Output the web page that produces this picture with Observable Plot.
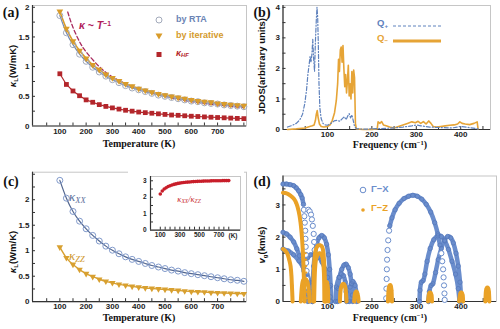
<!DOCTYPE html>
<html><head><meta charset="utf-8">
<script src="https://cdn.jsdelivr.net/npm/d3@7"></script>
<script src="https://cdn.jsdelivr.net/npm/@observablehq/plot@0.6"></script>
<style>
html,body{margin:0;padding:0;background:#fff;}
#fig{position:relative;width:500px;height:329px;overflow:hidden;background:#fff;font-family:"Liberation Sans",Arial,sans-serif;}
.t{position:absolute;white-space:nowrap;line-height:1;}
sub,sup{font-size:65%;line-height:0;}
sup{vertical-align:0.45em;}
sub{vertical-align:-0.3em;}
</style></head><body><div id="fig"></div>
<script>
// ---------- DATA ----------
// (a) thermal conductivity vs temperature
const temps = [100,125,150,175,200,225,250,275,300,325,350,375,400,425,450,475,500,525,550,575,600,625,650,675,700,725,750,775,800];
const kRTA  = [1.86,1.57,1.37,1.21,1.09,0.99,0.91,0.84,0.78,0.73,0.68,0.64,0.61,0.58,0.55,0.52,0.50,0.48,0.46,0.44,0.42,0.41,0.39,0.38,0.37,0.355,0.345,0.335,0.325];
const kIter = [1.93,1.64,1.43,1.27,1.14,1.03,0.95,0.87,0.81,0.76,0.71,0.67,0.63,0.60,0.57,0.54,0.52,0.50,0.48,0.46,0.44,0.42,0.41,0.40,0.38,0.37,0.36,0.35,0.34];
const kHF   = [0.88,0.70,0.59,0.51,0.44,0.40,0.36,0.33,0.305,0.285,0.265,0.25,0.235,0.225,0.215,0.205,0.195,0.185,0.18,0.172,0.165,0.16,0.153,0.148,0.143,0.138,0.133,0.128,0.124];
const invT_T = [130,150,175,200,250,300,350,400,500,600,700,800];
const invT_k = [1.92,1.66,1.42,1.25,1.0,0.83,0.71,0.62,0.5,0.41,0.355,0.31];
const tempTicks = [100,200,300,400,500,600,700];
const tempMinor = [50,100,150,200,250,300,350,400,450,500,550,600,650,700,750,800];
const kTicksA = [0,0.5,1,1.5,2];

// (b) JDOS  [frequency, value]
const qPlus = [[10,0.08],[20,0.13],[30,0.2],[38,0.32],[44,0.5],[49,0.85],[53,1.3],[56,1.8],[59,2.15],[61,2.4],[63,2.2],[65,2.45],[67,2.95],[69,2.3],[71,1.9],[73,2.9],[75,3.6],[76.5,4.0],[78,3.7],[79.5,2.8],[81,1.5],[83,0.7],[86,0.35],[90,0.2],[95,0.15],[100,0.14],[108,0.2],[115,0.28],[122,0.3],[128,0.27],[133,0.35],[138,0.42],[142,0.32],[146,0.45],[149,0.52],[152,0.38],[155,0.48],[158,0.3],[161,0.1],[165,0.03],[180,0.01],[200,0.02],[220,0.03],[250,0.05],[270,0.08],[290,0.12],[300,0.15],[310,0.12],[330,0.08],[360,0.06],[380,0.05],[400,0.1],[420,0.06],[440,0.02]];
const qMinus = [[10,0],[30,0.02],[50,0.05],[60,0.1],[66,0.12],[70,0.15],[73,0.3],[75,0.5],[77,0.62],[79,0.4],[82,0.18],[86,0.1],[92,0.08],[100,0.1],[106,0.15],[111,0.3],[116,0.55],[120,0.95],[123,1.5],[125,2.3],[127,1.9],[129,2.6],[131,2.7],[133,2.2],[135,2.75],[137,2.0],[139,1.4],[141,1.8],[143,1.2],[145,1.6],[147,2.1],[149,1.1],[151,1.5],[153,1.0],[155,1.9],[157,1.2],[159,1.95],[161,1.7],[163,0.2],[165,0.02],[180,0],[200,0],[212,0.02],[214,0.25],[218,0.2],[222,0.26],[226,0.15],[232,0.12],[240,0.08],[250,0.05],[260,0.1],[270,0.15],[280,0.2],[290,0.25],[298,0.22],[304,0.27],[310,0.2],[316,0.26],[322,0.18],[328,0.28],[333,0.2],[338,0.1],[345,0.08],[355,0.1],[365,0.12],[375,0.14],[385,0.15],[393,0.18],[398,0.25],[403,0.2],[410,0.18],[420,0.16],[430,0.2],[437,0.25],[439,0.02]];
const freqTicks = [100,200,300,400];
const freqMinor = [50,100,150,200,250,300,350,400,450];
const jdosTicks = [0,1,2,3,4];

// (c) anisotropic conductivity
const kXX = [2.38,2.03,1.77,1.58,1.43,1.30,1.19,1.09,1.01,0.94,0.88,0.83,0.79,0.75,0.71,0.68,0.65,0.62,0.60,0.57,0.55,0.53,0.51,0.49,0.47,0.45,0.43,0.42,0.40];
const kZZ = [1.07,0.86,0.73,0.63,0.55,0.49,0.44,0.40,0.37,0.34,0.32,0.30,0.285,0.27,0.26,0.25,0.24,0.23,0.22,0.21,0.20,0.195,0.19,0.18,0.175,0.17,0.165,0.16,0.155];
const kTicksC = [0,0.5,1,1.5,2];
const ratioT = [100,120,140,160,180,200,220,240,260,280,300,320,340,360,380,400,420,440,460,480,500,520,540,560,580,600,620,640,660,680,700,720,740,760,780,800];
const ratioV = [2.2,2.38,2.5,2.58,2.65,2.7,2.74,2.78,2.81,2.84,2.86,2.88,2.9,2.91,2.92,2.93,2.94,2.95,2.96,2.965,2.97,2.975,2.98,2.985,2.99,2.99,2.995,3.0,3.0,3.0,3.0,3.0,3.01,3.01,3.01,3.01];
const insetXTicks = [100,300,500,700];
const insetYTicks = [0,1,2,3];

// (d) group velocity [frequency, v_g]  Γ-X branches
const gx1  = [[0,3.65],[8,3.65],[16,3.63],[24,3.6],[30,3.53],[35,3.44],[40,3.32],[43,3.22],[46,3.02]];
const gx3  = [[0,2.15],[8,2.1],[16,2.0],[24,1.85],[31,1.64],[37,1.42],[43,1.18],[47,0.95],[50,0.77],[53,0.5],[55,0.25],[56,0]];
const gx4  = [[0,1.63],[12,1.57],[24,1.45],[36,1.26],[46,1.05],[54,0.85],[60,0.6],[64,0.3],[66,0]];
const gx5  = [[66,0],[67,0.6],[69,1.1],[72,1.5],[76,1.8],[81,1.98],[87,2.05],[93,1.98],[98,1.78],[102,1.45],[105,1.0],[107,0.5],[108,0]];
const gx6  = [[55,1.35],[62,1.45],[70,1.45],[80,1.38],[88,1.22],[95,1.0],[100,0.75],[104,0.45],[106,0.15],[107,0]];
const gx7  = [[123,0],[124,0.4],[127,0.75],[132,1.0],[137,1.13],[142,1.16],[147,1.05],[151,0.85],[154,0.55],[156,0.2],[157,0]];
const gx8  = [[118,0],[120,0.45],[126,0.75],[131,0.85],[136,0.8],[140,0.6],[142,0.3],[143,0]];
const gx9  = [[149,0],[151,0.45],[157,0.62],[162,0.5],[165,0.25],[166,0]];
const gx10 = [[240,2.35],[245,2.6],[252,2.85],[261,3.05],[272,3.2],[282,3.27],[292,3.3],[302,3.27],[312,3.18],[322,3.02],[332,2.78],[341,2.45],[348,2.1],[353,1.75]];
const gx11 = [[307,0],[308,0.35],[311,0.6],[315,0.65],[319,0.85],[324,1.25],[331,1.65],[339,1.92],[348,2.04],[356,2.02],[364,1.88],[372,1.62],[380,1.25],[388,0.85],[394,0.4],[397,0]];
const gx12 = [[327,0],[329,0.3],[333,0.5],[337,0.55],[343,0.9],[349,1.3],[356,1.65],[363,1.9],[370,2.02],[377,1.98],[383,1.82],[389,1.5],[394,1.1],[398,0.6],[400,0.2],[401,0]];
// sparse (isolated ring) segments
const gxR1 = [[47,2.85],[48,2.65],[49,2.45],[50,2.2],[50.5,1.95],[51,1.7],[51.5,1.45],[52,1.2],[53,0.95],[54,0.7],[55,0.45]];
const gxR2 = [[57,2.85],[60,2.8],[63,2.7],[65,2.55],[67,2.35],[69,2.1],[70,1.85],[71,1.6]];
const gxR3 = [[232,0.1],[232.5,0.4],[233,0.7],[233.5,1.0],[234,1.3],[235,1.6],[236.5,1.9],[238.5,2.2]];
const gxR4 = [[356,1.5],[358,1.25],[360,1.0],[361,0.75],[362,0.5],[363,0.25],[363.5,0.05]];
// Γ-Z branches
const gz1  = [[0,3.38],[8,3.36],[16,3.3],[24,3.2],[30,3.05],[35,2.82],[39,2.5],[42,2.1],[44,1.7],[45.5,1.3],[46.5,0.9],[47.5,0.5],[48,0.2],[48.5,0]];
const gz2  = [[0,1.63],[5,1.58],[10,1.48],[14,1.3],[17,1.1],[19,0.8],[20,0.5],[21,0.2],[21.5,0]];
const gz3  = [[40,0],[42,0.4],[45,0.65],[50,0.7],[55,0.6],[58,0.35],[60,0]];
const gz4  = [[68,0],[69,0.8],[71,1.35],[74,1.62],[78,1.73],[83,1.75],[88,1.7],[91,1.5],[93,1.1],[94.5,0.5],[95,0]];
const gz5  = [[70,0],[72,1.0],[76,1.4],[82,1.5],[88,1.4],[92,0.9],[93,0]];
const gz6  = [[96,0],[97,0.5],[99,0.6],[101,0.4],[102,0]];
const gz7  = [[128,0],[129,0.3],[132,0.5],[136,0.55],[140,0.45],[142,0.2],[143,0]];
const gz8  = [[160,0],[162,0.25],[166,0.3],[169,0.15],[170,0]];
const gz9  = [[236,0],[237,0.3],[239,0.48],[242,0.5],[244,0.35],[245,0]];
const gz10 = [[326,0],[328,0.22],[331,0.28],[334,0.2],[335,0]];
const gz11 = [[396,0],[398,0.22],[401,0.28],[404,0.2],[405,0]];
const gz12 = [[455,0],[456,0.3],[458,0.42],[461,0.42],[463,0.3],[464,0]];
const gzDots = [[51,1.5],[51.5,1.3],[52,1.1],[52.3,0.9],[52.6,0.7],[53,0.5],[53.3,0.3],[53.6,0.1]];
const vgTicks = [0,1,2,3];

// ---------- HELPERS ----------
const fig = document.getElementById("fig");
const C = {rta:"#a3aabb", rtaLine:"#7088b6", iter:"#d99c2b", hf:"#b3262b", inv:"#a82a5e",
  qp:"#5f82bd", qm:"#e6a436", xx:"#819acb", xxLine:"#52668f", zz:"#d8a030", gx:"#6a8dcc", gxDot:"#5679bb", gz:"#eaa227", ratio:"#c81e2a"};
const baseStyle = {fontFamily:"Liberation Sans, Arial, sans-serif", fontSize:"8px", fontWeight:"bold", color:"#222", background:"transparent", overflow:"visible"};
const rows = (xs, ys) => xs.map((x, i) => ({x, y: ys[i]}));
const pairs = (arr, id = 0) => arr.map(([x, y]) => ({x, y, id}));
const groups = (list) => list.flatMap((arr, i) => pairs(arr, i));

function place(svg, left, top) {
  svg.style.position = "absolute"; svg.style.left = left + "px"; svg.style.top = top + "px";
  fig.appendChild(svg);
}
function label(html, x, y, css = {}, opts = {}) {
  const d = document.createElement("div");
  d.className = "t"; d.innerHTML = html;
  Object.assign(d.style, {left: x + "px", top: y + "px"}, css);
  const ax = opts.anchor === "start" ? "0" : "-50%";
  d.style.transform = `translate(${ax},-50%)` + (opts.rotate ? ` rotate(${opts.rotate}deg)` : "");
  fig.appendChild(d);
}
function frameAxes(o) {
  const xl = (o.xd[1] - o.xd[0]) * 3 / o.w, yl = (o.yd[1] - o.yd[0]) * 3 / o.h;
  return [
    Plot.frame({stroke: "#c6c6c6"}),
    Plot.ruleX(o.xMinor, {x: d => d, y1: () => o.yd[0], y2: () => o.yd[0] + yl, stroke: "#333"}),
    Plot.ruleY(o.yMinor, {y: d => d, x1: () => o.xd[0], x2: () => o.xd[0] + xl, stroke: "#333"}),
    Plot.ruleY([o.yd[0]], {stroke: "#333", strokeWidth: 1.2}),
    Plot.ruleX([o.xd[0]], {stroke: "#333", strokeWidth: 1.2}),
    Plot.axisX({ticks: o.xTicks, tickSize: 0, tickPadding: o.xPad ?? 2, label: null, tickFormat: d => String(d)}),
    Plot.axisY({ticks: o.yTicks, tickSize: 0, tickPadding: o.yPad ?? 3, label: null, tickFormat: d => String(d)})
  ];
}
const serifB = {fontFamily: "Liberation Serif, Times New Roman, serif", fontWeight: "bold"};
const sansB = {fontFamily: "Liberation Sans, Arial, sans-serif", fontWeight: "bold"};

// ---------- PANEL (a) ----------
{
  const xd = [-4, 810], yd = [0, 2.03];
  place(Plot.plot({
    width: 250, height: 150, marginLeft: 32, marginRight: 4, marginTop: 5, marginBottom: 24.5,
    x: {domain: xd}, y: {domain: yd}, style: baseStyle,
    marks: [
      ...frameAxes({xd, yd, w: 214, h: 120.5, xTicks: tempTicks, yTicks: kTicksA, xMinor: tempMinor, yMinor: [0.25,0.5,0.75,1,1.25,1.5,1.75,2]}),
      Plot.line(rows(invT_T, invT_k), {x: "x", y: "y", stroke: C.inv, strokeWidth: 1.3, strokeDasharray: "4,2.5", curve: "natural"}),
      Plot.line(rows(temps, kRTA), {x: "x", y: "y", stroke: C.rtaLine, strokeWidth: 1.2, curve: "natural"}),
      Plot.line(rows(temps, kIter), {x: "x", y: "y", stroke: C.iter, strokeWidth: 1.6, curve: "natural"}),
      Plot.dot(rows(temps, kRTA), {x: "x", y: "y", r: 3, stroke: C.rta, strokeWidth: 1, fill: "none"}),
      Plot.dot(rows(temps, kIter), {x: "x", y: "y", symbol: "triangle", r: 2.5, fill: C.iter, rotate: 180}),
      Plot.line(rows(temps, kHF), {x: "x", y: "y", stroke: C.hf, strokeWidth: 1.2}),
      Plot.dot(rows(temps, kHF), {x: "x", y: "y", symbol: "square", r: 2.7, fill: C.hf})
    ]
  }), 0, 0);
}

// ---------- PANEL (b) ----------
{
  const xd = [0, 467], yd = [0, 4.06];
  place(Plot.plot({
    width: 250, height: 150, marginLeft: 32.5, marginRight: 10, marginTop: 5, marginBottom: 21,
    x: {domain: xd}, y: {domain: yd}, style: baseStyle,
    marks: [
      ...frameAxes({xd, yd, w: 207.5, h: 124, xTicks: freqTicks, yTicks: jdosTicks, xMinor: freqMinor, yMinor: [0.5,1,1.5,2,2.5,3,3.5,4]}),
      Plot.line(pairs(qMinus), {x: "x", y: "y", stroke: C.qm, strokeWidth: 1.6}),
      Plot.line(pairs(qPlus), {x: "x", y: "y", stroke: C.qp, strokeWidth: 1.2, strokeDasharray: "4,2,1,2"})
    ]
  }), 250, 0);
}

// ---------- PANEL (c) ----------
{
  const xd = [-4, 810], yd = [0, 2.54];
  place(Plot.plot({
    width: 250, height: 164, marginLeft: 32, marginRight: 4, marginTop: 6.7, marginBottom: 27.8,
    x: {domain: xd}, y: {domain: yd}, style: baseStyle,
    marks: [
      ...frameAxes({xd, yd, w: 214, h: 129.5, xTicks: tempTicks, yTicks: kTicksC, xMinor: tempMinor, yMinor: [0.25,0.5,0.75,1,1.25,1.5,1.75,2,2.25,2.5]}),
      Plot.line(rows(temps, kXX), {x: "x", y: "y", stroke: C.xxLine, strokeWidth: 1.2, curve: "natural"}),
      Plot.dot(rows(temps, kXX), {x: "x", y: "y", r: 3, stroke: C.xx, strokeWidth: 1, fill: "none"}),
      Plot.line(rows(temps, kZZ), {x: "x", y: "y", stroke: C.zz, strokeWidth: 1.4, curve: "natural"}),
      Plot.dot(rows(temps, kZZ), {x: "x", y: "y", symbol: "triangle", r: 2.4, fill: C.zz, rotate: 180})
    ]
  }), 0, 165);
  // inset
  const ixd = [0, 920], iyd = [0, 3.26];
  place(Plot.plot({
    width: 116, height: 76, marginLeft: 22, marginRight: 4, marginTop: 8, marginBottom: 14.3,
    x: {domain: ixd}, y: {domain: iyd}, style: {...baseStyle, fontSize: "6.5px", background: "#fff"},
    marks: [
      ...frameAxes({xd: ixd, yd: iyd, w: 90, h: 53.7, xTicks: insetXTicks, yTicks: insetYTicks, xPad: 2.5, yPad: 4,
        xMinor: [100,150,200,250,300,350,400,450,500,550,600,650,700,750,800], yMinor: [0.5,1,1.5,2,2.5,3]}),
      Plot.dot(rows(ratioT, ratioV), {x: "x", y: "y", r: 1.8, fill: C.ratio})
    ]
  }), 128, 168);
}

// ---------- PANEL (d) ----------
{
  const xd = [0, 480], yd = [0, 3.9];
  const blueArcs = [gx1, gx3, gx4, gx5, gx6, gx7, gx8, gx9, gx10, gx11, gx12];
  const blueRings = [gxR1, gxR2, gxR3, gxR4];
  const orangeArcs = [gz1, gz2, gz3, gz4, gz5, gz6, gz7, gz8, gz9, gz10, gz11, gz12];
  place(Plot.plot({
    width: 250, height: 164, marginLeft: 32.5, marginRight: 4, marginTop: 10.5, marginBottom: 28,
    x: {domain: xd}, y: {domain: yd}, style: baseStyle,
    marks: [
      ...frameAxes({xd, yd, w: 213.5, h: 125.5, xTicks: freqTicks, yTicks: vgTicks, xMinor: freqMinor, yMinor: [0.5,1,1.5,2,2.5,3,3.5]}),
      Plot.line(groups(blueArcs), {x: "x", y: "y", z: "id", stroke: C.gx, strokeWidth: 4.5, curve: "natural"}),
      Plot.dot(groups(blueArcs), {x: "x", y: "y", r: 2.2, stroke: C.gxDot, strokeWidth: 0.8, fill: "none"}),
      Plot.dot(groups(blueRings), {x: "x", y: "y", r: 2.6, stroke: C.gx, strokeWidth: 1, fill: "#fff"}),
      Plot.line(groups(orangeArcs), {x: "x", y: "y", z: "id", stroke: C.gz, strokeWidth: 4, curve: "natural"}),
      Plot.dot(groups(orangeArcs), {x: "x", y: "y", r: 1.6, fill: C.gz}),
      Plot.dot(pairs(gzDots), {x: "x", y: "y", r: 1.1, fill: C.gz})
    ]
  }), 250, 165);
}

// ---------- TEXT ----------
const panelCss = {...serifB, fontSize: "14px", color: "#111"};
label("(a)", 11, 13, panelCss);
label("(b)", 262, 13, panelCss);
label("(c)", 11, 182, panelCss);
label("(d)", 262, 182, panelCss);

const yTitle = {...sansB, fontSize: "9.5px", color: "#111"};
label("<i>κ</i><sub>L</sub>(W/mK)", 13, 66, yTitle, {rotate: -90});
label("JDOS(arbitrary units)", 262, 66, yTitle, {rotate: -90});
label("<i>κ</i><sub>L</sub>(Wm/K)", 13, 252, yTitle, {rotate: -90});
label("<i>v</i><sub>g</sub>(km/s)", 262, 245, yTitle, {rotate: -90});

const xTitle = {...serifB, fontSize: "10px", color: "#111"};
label("Temperature (K)", 139, 143.5, xTitle);
label("Frequency (cm<sup>−1</sup>)", 390, 144.5, xTitle);
label("Temperature (K)", 139, 318, xTitle);
label("Frequency (cm<sup>−1</sup>)", 390, 318, xTitle);

// legend (a)
const legA = {...sansB, fontSize: "9px"};
label(`<svg width="8" height="8"><circle cx="4" cy="4" r="3" fill="none" stroke="${C.rta}" stroke-width="1"/></svg>`, 159, 19);
label("by RTA", 176, 19, {...legA, color: "#6b84b5"}, {anchor: "start"});
label(`<svg width="8" height="8"><path d="M0.5,1.5 L7.5,1.5 L4,7.5 Z" fill="${C.iter}"/></svg>`, 159, 35);
label("by iterative", 176, 35, {...legA, color: "#d49a2c"}, {anchor: "start"});
label(`<svg width="7" height="7"><rect x="1" y="1" width="5" height="5" fill="${C.hf}"/></svg>`, 159, 53);
label("<i>κ</i><sub><i>HF</i></sub>", 176, 53, {...legA, color: C.hf}, {anchor: "start"});
label("<i>κ</i> ~ <i>T</i><sup>−1</sup>", 95, 25, {...sansB, fontSize: "10.5px", color: "#b0205a"});

// legend (b)
label("Q<sub>+</sub>", 377, 23, {...sansB, fontSize: "9.5px", color: C.qp}, {anchor: "start"});
label(`<svg width="48" height="4"><line x1="0" y1="2" x2="48" y2="2" stroke="${C.qp}" stroke-width="1" stroke-dasharray="3,2"/></svg>`, 393, 23, {}, {anchor: "start"});
label("Q<sub>−</sub>", 377, 38, {...sansB, fontSize: "9.5px", color: C.qm}, {anchor: "start"});
label(`<svg width="48" height="4"><line x1="0" y1="2" x2="48" y2="2" stroke="${C.qm}" stroke-width="3"/></svg>`, 393, 38, {}, {anchor: "start"});

// labels (c)
const kLab = {fontFamily: "Liberation Serif, Times New Roman, serif", fontStyle: "italic", fontSize: "13px"};
label("κ<sub>XX</sub>", 69, 196, {...kLab, color: "#5a6e9a"}, {anchor: "start"});
label("κ<sub>ZZ</sub>", 69, 255, {...kLab, color: "#cf982c"}, {anchor: "start"});
label("κ<sub>XX</sub>/κ<sub>ZZ</sub>", 189, 199, {...kLab, fontSize: "8.5px", color: C.ratio});
label("(K)", 233, 236, {...sansB, fontSize: "6.5px", color: "#222"});

// legend (d)
label(`<svg width="8" height="8"><circle cx="4" cy="4" r="2.8" fill="none" stroke="${C.gx}" stroke-width="1"/></svg>`, 362.5, 189);
label("Γ−X", 371, 189, {...sansB, fontSize: "9.5px", color: C.gx}, {anchor: "start"});
label(`<svg width="6" height="6"><circle cx="3" cy="3" r="1.8" fill="${C.gz}"/></svg>`, 362.5, 208);
label("Γ−Z", 371, 208, {...sansB, fontSize: "9.5px", color: C.gz}, {anchor: "start"});
</script></body></html>
